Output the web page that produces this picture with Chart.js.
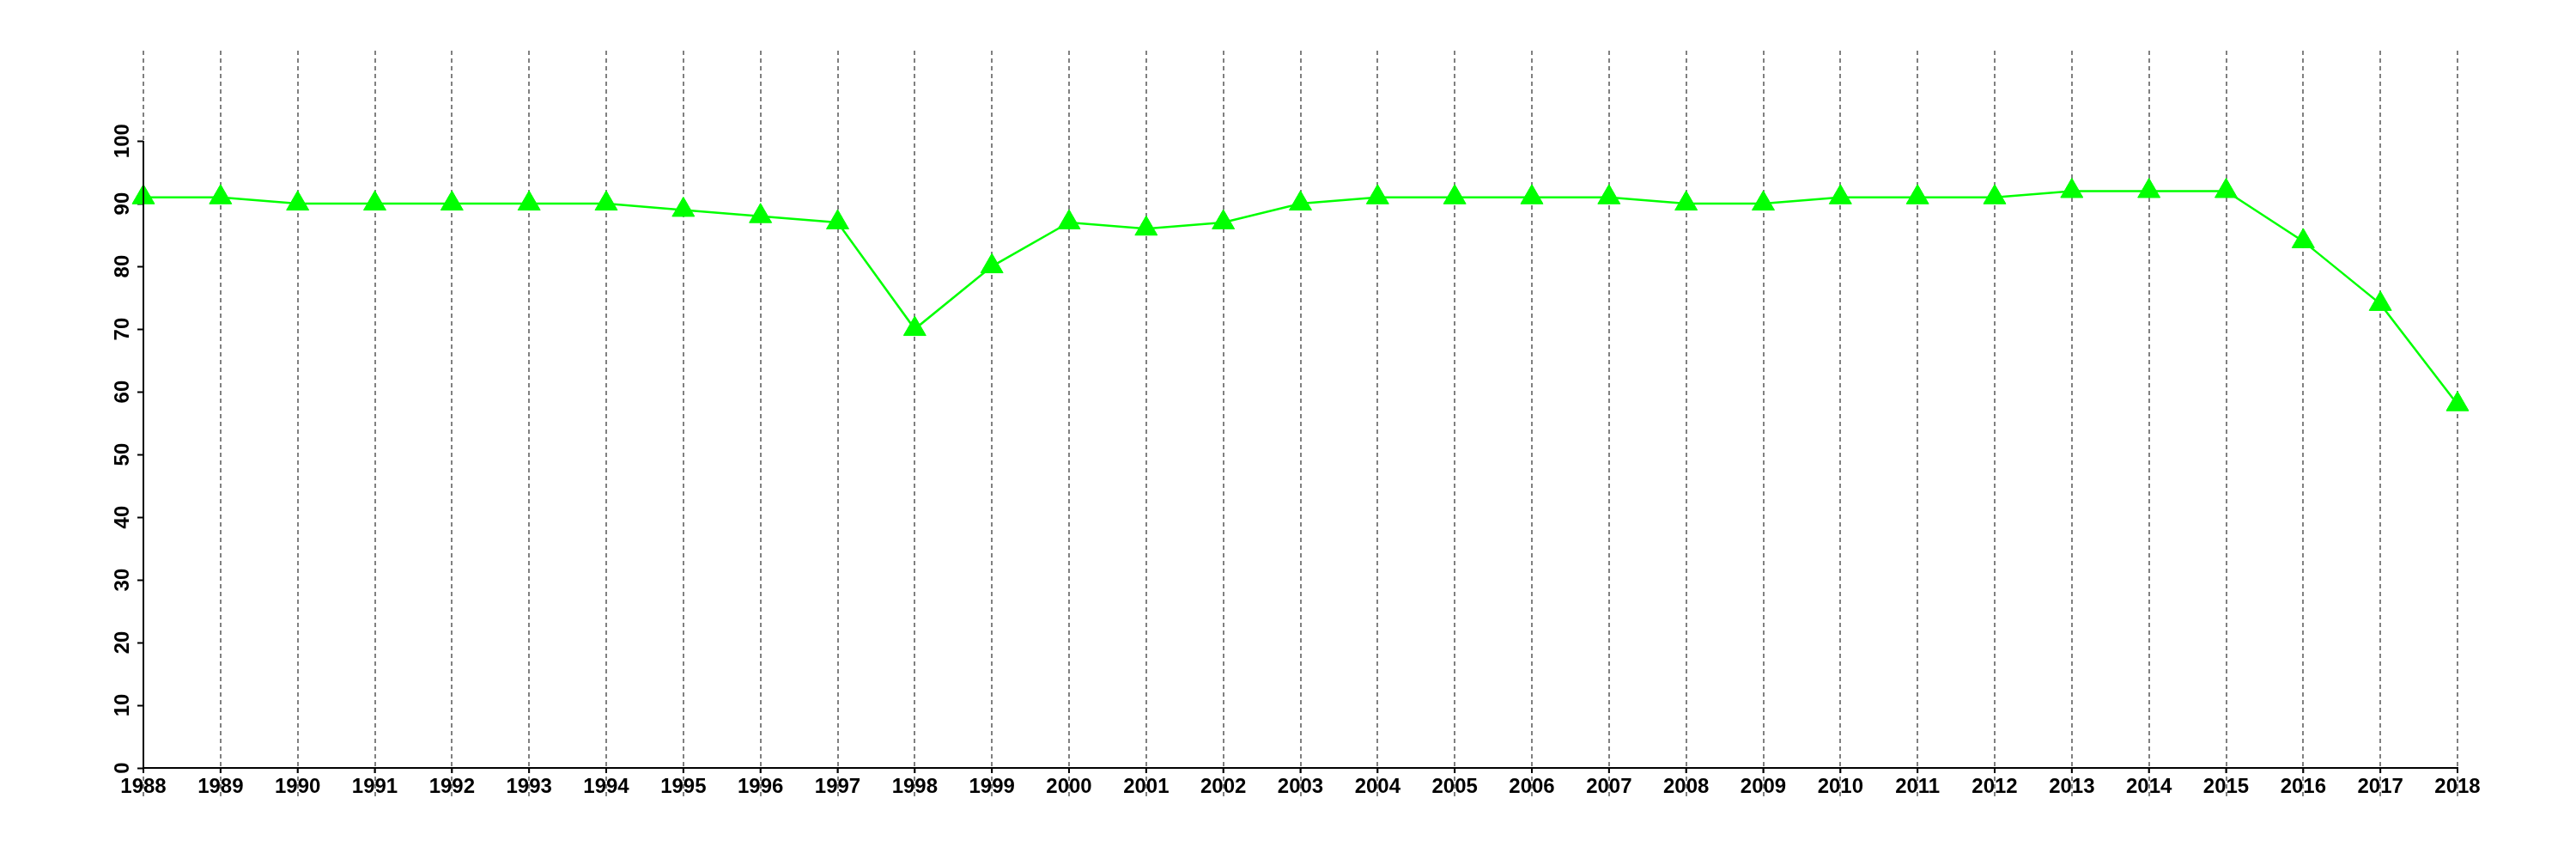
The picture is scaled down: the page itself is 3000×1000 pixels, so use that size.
<!DOCTYPE html>
<html>
<head>
<meta charset="utf-8">
<script src="https://cdn.jsdelivr.net/npm/chart.js@4/dist/chart.umd.min.js"></script>
<style>
  html, body { margin: 0; padding: 0; background: #fff; }
  #wrap { width: 3000px; height: 1000px; }
</style>
</head>
<body>
<div id="wrap"><canvas id="chart" width="3000" height="1000"></canvas></div>
<script>
const years = [
  "1988", "1989", "1990", "1991", "1992", "1993", "1994", "1995", "1996", "1997",
  "1998", "1999", "2000", "2001", "2002", "2003", "2004", "2005", "2006", "2007",
  "2008", "2009", "2010", "2011", "2012", "2013", "2014", "2015", "2016", "2017", "2018"
];
const values = [
  91, 91, 90, 90, 90, 90, 90, 89, 88, 87,
  70, 80, 87, 86, 87, 90, 91, 91, 91, 91,
  90, 90, 91, 91, 91, 92, 92, 92, 84, 74, 58
];
const yTicks = [0, 10, 20, 30, 40, 50, 60, 70, 80, 90, 100];

const labelFont = { family: "'Liberation Sans', Arial, sans-serif", size: 24, weight: "bold" };

// black axis line on y (only 0..100) and short solid ticks on x
const axisDecor = {
  id: "axisDecor",
  afterDraw(chart) {
    const ctx = chart.ctx;
    const xs = chart.scales.x;
    const ys = chart.scales.y;
    const left = chart.chartArea.left;
    const bottom = ys.getPixelForValue(0);
    ctx.save();
    ctx.strokeStyle = "#000";
    ctx.lineWidth = 2;
    ctx.beginPath();
    ctx.moveTo(left, ys.getPixelForValue(yTicks[yTicks.length - 1]));
    ctx.lineTo(left, bottom);
    ctx.stroke();
    ctx.beginPath();
    years.forEach((y, i) => {
      const px = xs.getPixelForValue(i);
      ctx.moveTo(px, bottom);
      ctx.lineTo(px, bottom + 6);
    });
    ctx.stroke();
    ctx.restore();
  },
};

const ctx = document.getElementById("chart").getContext("2d");
new Chart(ctx, {
  type: "line",
  data: {
    labels: years,
    datasets: [
      {
        data: values,
        borderColor: "#00ff00",
        borderWidth: 2.5,
        tension: 0,
        fill: false,
        pointStyle: "triangle",
        pointRadius: 15,
        pointHoverRadius: 15,
        pointBackgroundColor: "#00ff00",
        pointBorderColor: "#00ff00",
        pointBorderWidth: 1,
      },
    ],
  },
  options: {
    responsive: false,
    animation: false,
    layout: { padding: { left: 107, right: 138, top: 59, bottom: 0 } },
    plugins: { legend: { display: false }, tooltip: { enabled: false } },
    scales: {
      x: {
        offset: false,
        afterFit: (s) => { s.height = 106; },
        grid: {
          display: true,
          color: "#808080",
          lineWidth: 2,
          tickLength: 33,
          tickColor: "#808080",
          tickWidth: 2,
          tickBorderDash: [5, 4],
        },
        border: { display: true, color: "#000", width: 2, dash: [5, 4] },
        ticks: {
          color: "#000",
          font: labelFont,
          padding: -25,
          maxRotation: 0,
          minRotation: 0,
          autoSkip: false,
        },
      },
      y: {
        min: 0,
        max: 114.4,
        afterFit: (s) => { s.width = 60; },
        afterBuildTicks: (s) => { s.ticks = yTicks.map((v) => ({ value: v })); },
        grid: {
          display: true,
          drawOnChartArea: false,
          tickLength: 7,
          tickColor: "#000",
          tickWidth: 2,
        },
        border: { display: false },
        ticks: {
          color: "#000",
          font: labelFont,
          minRotation: 90,
          maxRotation: 90,
          crossAlign: "center",
          padding: -3,
        },
      },
    },
  },
  plugins: [axisDecor],
});
</script>
</body>
</html>
